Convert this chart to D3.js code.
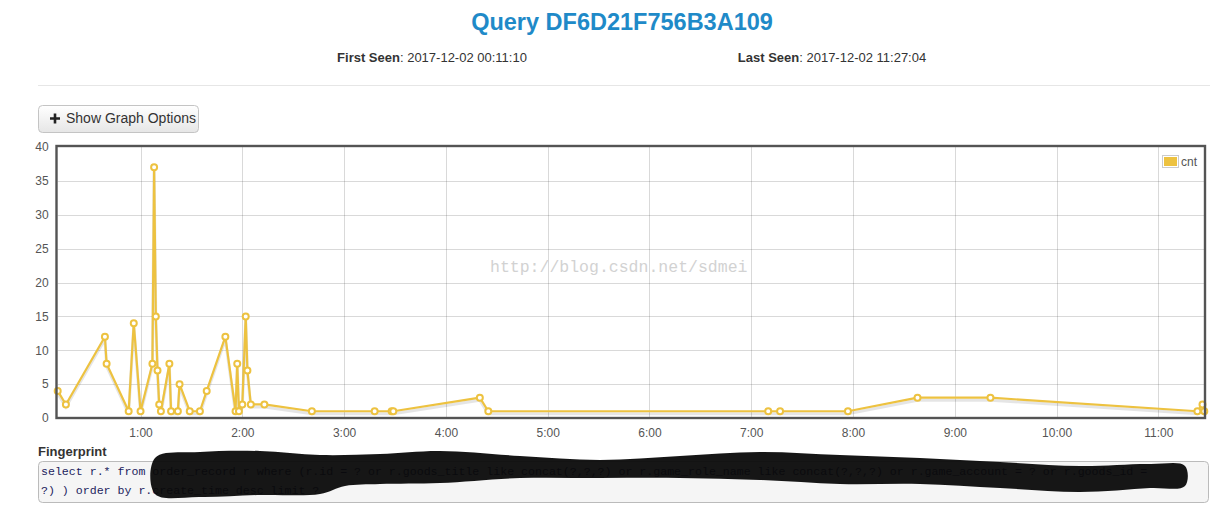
<!DOCTYPE html>
<html><head><meta charset="utf-8">
<script src="https://cdn.jsdelivr.net/npm/d3@7"></script>
<style>
body{margin:0;background:#fff;font-family:"Liberation Sans",Arial,sans-serif;}
svg{display:block;}
</style></head>
<body>
<svg id="c" width="1224" height="513"></svg>
<script>
// ---- data ----
const times = ["00:11:10","00:16:00","00:39:00","00:40:00","00:53:00","00:56:00","01:00:00","01:07:00","01:08:00","01:09:00",
  "01:10:00","01:11:00","01:12:00","01:17:00","01:18:00","01:22:00","01:23:00","01:29:00","01:35:00","01:39:00",
  "01:50:00","01:56:00","01:57:00","01:58:00","02:00:00","02:02:00","02:03:00","02:05:00","02:13:00","02:41:00",
  "03:18:00","03:28:00","03:29:00","04:20:00","04:25:00","07:10:00","07:17:00","07:57:00","08:38:00","09:21:00",
  "11:23:00","11:26:00","11:27:04"];
const cnt = [4,2,12,8,1,14,1,8,37,15,
  7,2,1,8,1,1,5,1,1,4,
  12,1,8,1,2,15,7,2,2,1,
  1,1,1,3,1,1,1,1,3,3,
  1,2,1];
const yTicks = [0,5,10,15,20,25,30,35,40];
const seriesName = "cnt";
const firstSeen = "2017-12-02 00:11:10";
const lastSeen = "2017-12-02 11:27:04";

(function(){
const parse = d3.timeParse("%Y-%m-%d %H:%M:%S");
const data = times.map((t,i)=>({t:parse("2017-12-02 "+t), v:cnt[i]}));

const svg = d3.select("#c");
const lineColor = "#edc240";

// ---- header ----
svg.append("text").attr("x",622).attr("y",30).attr("text-anchor","middle")
  .attr("font-size",23.5).attr("font-weight","bold").attr("fill","#1f8ac8")
  .text("Query DF6D21F756B3A109");
const fs = svg.append("text").attr("x",432).attr("y",62).attr("text-anchor","middle")
  .attr("font-size",13).attr("fill","#333");
fs.append("tspan").attr("font-weight","bold").text("First Seen");
fs.append("tspan").text(": "+firstSeen);
const ls = svg.append("text").attr("x",832).attr("y",62).attr("text-anchor","middle")
  .attr("font-size",13).attr("fill","#333");
ls.append("tspan").attr("font-weight","bold").text("Last Seen");
ls.append("tspan").text(": "+lastSeen);
svg.append("line").attr("x1",38).attr("x2",1210).attr("y1",85.5).attr("y2",85.5)
  .attr("stroke","#e6e6e6");

// ---- button ----
const defs = svg.append("defs");
const g = defs.append("linearGradient").attr("id","btn").attr("x1",0).attr("x2",0).attr("y1",0).attr("y2",1);
g.append("stop").attr("offset","0%").attr("stop-color","#ffffff");
g.append("stop").attr("offset","100%").attr("stop-color","#e6e6e6");
svg.append("rect").attr("x",38.5).attr("y",105.5).attr("width",160).attr("height",27).attr("rx",4)
  .attr("fill","url(#btn)").attr("stroke","#c4c4c4");
svg.append("path").attr("d","M50,118.5h10M55,113.5v10").attr("stroke","#222").attr("stroke-width",2.6);
svg.append("text").attr("x",66).attr("y",123).attr("font-size",14).attr("fill","#333")
  .text("Show Graph Options");

// ---- chart ----
const L=57.7, R=1204.3, T=147, B=418;
const x = d3.scaleTime().domain([parse(firstSeen), parse(lastSeen)]).range([L,R]);
const y = d3.scaleLinear().domain([0,40]).range([B,T]);

const grid = svg.append("g");
const xt = x.ticks(d3.timeHour.every(1)).filter(d=>x(d)>L+5);
grid.selectAll(".vx").data(xt).join("line").attr("x1",d=>Math.round(x(d))+0.5).attr("x2",d=>Math.round(x(d))+0.5)
  .attr("y1",T).attr("y2",B).attr("stroke","#545454").attr("stroke-opacity",0.22);
grid.selectAll(".hy").data(yTicks.slice(1,-1)).join("line").attr("y1",d=>Math.round(y(d))+0.5).attr("y2",d=>Math.round(y(d))+0.5)
  .attr("x1",L).attr("x2",R).attr("stroke","#545454").attr("stroke-opacity",0.22);

// axes (labels only)
const yAxis = d3.axisLeft(y).tickValues(yTicks).tickSize(0).tickPadding(8);
const ya = svg.append("g").attr("transform",`translate(${L-1},0)`).call(yAxis);
ya.select(".domain").remove();
ya.selectAll("text").attr("font-size",12).attr("fill","#555").attr("font-family","Liberation Sans, Arial, sans-serif");
const xAxis = d3.axisBottom(x).tickValues(xt).tickFormat(d3.timeFormat("%-H:%M")).tickSize(0).tickPadding(10);
const xa = svg.append("g").attr("transform",`translate(0,${B})`).call(xAxis);
xa.select(".domain").remove();
xa.selectAll("text").attr("font-size",12).attr("fill","#555").attr("font-family","Liberation Sans, Arial, sans-serif");

// watermark
svg.append("text").attr("x",490).attr("y",272).attr("font-family","Liberation Mono, monospace")
  .attr("font-size",16.5).attr("fill","#d2d2d2").text("http://blog.csdn.net/sdmei");

// shadow + line
const line = d3.line().x(d=>x(d.t)).y(d=>y(d.v));
svg.append("path").datum(data).attr("d",line).attr("fill","none")
  .attr("stroke","#000").attr("stroke-opacity",0.1).attr("stroke-width",3).attr("transform","translate(0,2.5)");
svg.append("path").datum(data).attr("d",line).attr("fill","none")
  .attr("stroke",lineColor).attr("stroke-width",2.2).attr("stroke-linejoin","round");
svg.selectAll(".pt").data(data).join("circle").attr("cx",d=>x(d.t)).attr("cy",d=>y(d.v)).attr("r",3)
  .attr("fill","#fff").attr("stroke",lineColor).attr("stroke-width",2);

// border
svg.append("rect").attr("x",56.5).attr("y",146).attr("width",1148.5).attr("height",272)
  .attr("fill","none").attr("stroke","#545454").attr("stroke-width",2.4);

// legend
svg.append("rect").attr("x",1162.5).attr("y",155.5).attr("width",16).attr("height",12).attr("fill","#fff").attr("stroke","#ccc");
svg.append("rect").attr("x",1164).attr("y",157).attr("width",13).attr("height",9).attr("fill",lineColor);
svg.append("text").attr("x",1181).attr("y",165.5).attr("font-size",12).attr("fill","#545454").text(seriesName);

// ---- fingerprint ----
svg.append("text").attr("x",38).attr("y",456).attr("font-size",13).attr("font-weight","bold").attr("fill","#333").text("Fingerprint");
svg.append("rect").attr("x",38.5).attr("y",461.5).attr("width",1170).attr("height",41).attr("rx",4)
  .attr("fill","#f5f5f5").attr("stroke","#bbb");
svg.append("text").attr("x",41).attr("y",475).attr("font-family","Liberation Mono, monospace").attr("font-size",11.6)
  .attr("fill","#1d1d5e").text("select r.* from order_record r where (r.id = ? or r.goods_title like concat(?,?,?) or r.game_role_name like concat(?,?,?) or r.game_account = ? or r.goods_id =");
svg.append("text").attr("x",41).attr("y",494).attr("font-family","Liberation Mono, monospace").attr("font-size",11.6)
  .attr("fill","#1d1d5e").text("?) ) order by r.create_time desc limit ?");

// scribble
const upper = [[155,458],[200,452],[260,451],[320,455],[380,454],[440,451],[520,456],[600,460],[680,456],[760,452],[840,455],[920,458],[1000,462],[1080,466],[1150,464],[1185,466]];
const lower = [[155,494],[200,497],[260,495],[320,494],[345,486],[380,484],[440,483],[520,478],[600,478],[680,478],[760,480],[840,484],[920,484],[1000,488],[1080,492],[1150,488],[1185,486]];
const poly = upper.concat(lower.slice().reverse());
svg.append("path").attr("d", d3.line().curve(d3.curveCatmullRomClosed)(poly)).attr("fill","#0a0a0a").attr("fill-opacity",0.95);
})();
</script>
</body></html>
